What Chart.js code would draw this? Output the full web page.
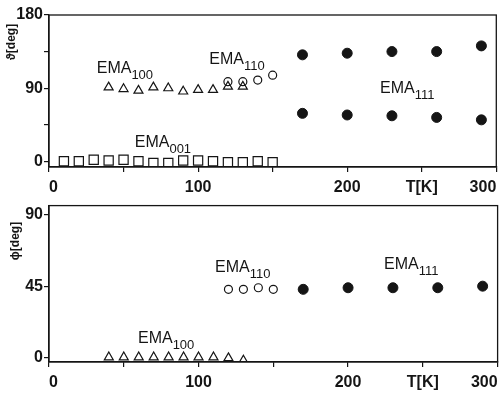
<!DOCTYPE html>
<html>
<head>
<meta charset="utf-8">
<script src="https://cdn.jsdelivr.net/npm/chart.js@4.4.0/dist/chart.umd.min.js"></script>
<style>
  html, body { margin: 0; padding: 0; background: #fff; }
  #top { position: absolute; left: 0; top: 0; }
  #bottom { position: absolute; left: 0; top: 195px; }
</style>
</head>
<body>
<canvas id="top" width="504" height="195"></canvas>
<canvas id="bottom" width="504" height="200"></canvas>
<script>
// tick values / labels
const xTicks = [0, 50, 100, 150, 200, 250, 300];
const xTickLabels = ['0', '', '100', '', '200', 'T[K]', '300'];
const thetaTicks = [0, 45, 90, 135, 180];
const thetaTickLabels = ['0', '', '90', '', '180'];
const phiTicks = [0, 45, 90];
const phiTickLabels = ['0', '45', '90'];

// temperatures [K]
const tEma001 = [10, 20, 30, 40, 50, 60, 70, 80, 90, 100, 110, 120, 130, 140, 150];
const tEma100 = [40, 50, 60, 70, 80, 90, 100, 110, 120, 130];
const tEma110 = [120, 130, 140, 150];
const tEma111 = [170, 200, 230, 260, 290];

// theta [deg]
const thetaEma001 = [0, 0, 2, 1, 2, 0, -2, -2, 1, 1, 0, -1, -1, 0, -1];
const thetaEma100 = [91, 89, 87, 91, 90, 86, 88, 88, 92, 92];
const thetaEma110 = [98, 98, 100, 106];
const thetaEma111Upper = [131, 133, 135, 135, 142];
const thetaEma111Lower = [59, 57, 56, 54, 51];

// phi [deg]
const phiEma100 = [0, 0, 0, 0, 0, 0, 0, 0, -0.5, -2];
const phiEma110 = [43, 43, 44, 43];
const phiEma111 = [43, 44, 44, 44, 45];

const INK = '#151515';
const FONT = '"Liberation Sans", Arial, sans-serif';

const pts = (xs, ys) => xs.map((x, i) => ({ x: x, y: ys[i] }));

const openSquare = { pointStyle: 'rect', pointRadius: 6.5, backgroundColor: 'transparent', borderColor: INK, borderWidth: 1.2 };
const openTriangle = { pointStyle: 'triangle', pointRadius: 5.2, backgroundColor: 'transparent', borderColor: INK, borderWidth: 1.2 };
const openCircle = { pointStyle: 'circle', pointRadius: 4, backgroundColor: 'transparent', borderColor: INK, borderWidth: 1.2 };
const fullCircle = { pointStyle: 'circle', pointRadius: 5, backgroundColor: INK, borderColor: INK, borderWidth: 1 };

function annotate(labels, title, titlePos) {
  return {
    id: 'annotate',
    afterDraw(chart) {
      const { ctx, chartArea: a, scales } = chart;
      ctx.save();
      ctx.strokeStyle = INK;
      ctx.lineWidth = 1.3;
      ctx.strokeRect(a.left, a.top, a.right - a.left, a.bottom - a.top);
      ctx.fillStyle = INK;
      ctx.textAlign = 'left';
      ctx.textBaseline = 'alphabetic';
      labels.forEach((l) => {
        const x = scales.x.getPixelForValue(l.t);
        const y = scales.y.getPixelForValue(l.v);
        ctx.font = '16px ' + FONT;
        ctx.fillText(l.text, x, y);
        const w = ctx.measureText(l.text).width;
        ctx.font = '13px ' + FONT;
        ctx.fillText(l.sub, x + w, y + 6);
      });
      ctx.translate(titlePos[0], titlePos[1]);
      ctx.rotate(-Math.PI / 2);
      ctx.textAlign = 'center';
      ctx.textBaseline = 'middle';
      ctx.font = 'bold 12px ' + FONT;
      ctx.fillText(title, 0, 0);
      ctx.restore();
    },
  };
}

function scalesFor(yMin, yMax, yTicks, yLabels, xHeight) {
  return {
    x: {
      type: 'linear',
      min: 0,
      max: 300,
      afterBuildTicks: (s) => { s.ticks = xTicks.map((v) => ({ value: v })); },
      afterFit: (s) => { s.height = xHeight; },
      ticks: {
        callback: (v, i) => xTickLabels[i],
        autoSkip: false,
        maxRotation: 0,
        align: 'inner',
        padding: 6,
        color: INK,
        font: { family: FONT, size: 16, weight: 'bold' },
      },
      grid: { drawOnChartArea: false, tickLength: 5, color: INK, lineWidth: 1.2 },
      border: { color: INK, width: 1.3 },
    },
    y: {
      type: 'linear',
      min: yMin,
      max: yMax,
      afterBuildTicks: (s) => { s.ticks = yTicks.map((v) => ({ value: v })); },
      afterFit: (s) => { s.width = 49; },
      ticks: {
        callback: (v, i) => yLabels[i],
        autoSkip: false,
        padding: 1,
        color: INK,
        font: { family: FONT, size: 16, weight: 'bold' },
      },
      grid: { drawOnChartArea: false, tickLength: 5, color: INK, lineWidth: 1.2 },
      border: { color: INK, width: 1.3 },
    },
  };
}

new Chart(document.getElementById('top'), {
  type: 'scatter',
  data: {
    datasets: [
      { label: 'EMA001', data: pts(tEma001, thetaEma001), ...openSquare },
      { label: 'EMA100', data: pts(tEma100, thetaEma100), ...openTriangle },
      { label: 'EMA110', data: pts(tEma110, thetaEma110), ...openCircle },
      { label: 'EMA111 upper', data: pts(tEma111, thetaEma111Upper), ...fullCircle },
      { label: 'EMA111 lower', data: pts(tEma111, thetaEma111Lower), ...fullCircle },
    ],
  },
  options: {
    responsive: false,
    animation: false,
    layout: { padding: { top: 15, right: 6, left: 0, bottom: 0 } },
    plugins: { legend: { display: false }, tooltip: { enabled: false } },
    scales: scalesFor(-7, 180, thetaTicks, thetaTickLabels, 28),
  },
  plugins: [annotate([
    { text: 'EMA', sub: '100', t: 32, v: 109 },
    { text: 'EMA', sub: '110', t: 107.5, v: 120 },
    { text: 'EMA', sub: '001', t: 57.5, v: 17 },
    { text: 'EMA', sub: '111', t: 222, v: 84 },
  ], '\u03D1[deg]', [12, 42])],
});

new Chart(document.getElementById('bottom'), {
  type: 'scatter',
  data: {
    datasets: [
      { label: 'EMA100', data: pts(tEma100, phiEma100), ...openTriangle },
      { label: 'EMA110', data: pts(tEma110, phiEma110), ...openCircle },
      { label: 'EMA111', data: pts(tEma111, phiEma111), ...fullCircle },
    ],
  },
  options: {
    responsive: false,
    animation: false,
    layout: { padding: { top: 8, right: 6, left: 0, bottom: 0 } },
    plugins: { legend: { display: false }, tooltip: { enabled: false } },
    scales: scalesFor(-3, 96, phiTicks, phiTickLabels, 33),
  },
  plugins: [annotate([
    { text: 'EMA', sub: '110', t: 111, v: 54 },
    { text: 'EMA', sub: '111', t: 224, v: 56 },
    { text: 'EMA', sub: '100', t: 59.5, v: 9.3 },
  ], '\u03D5[deg]', [16, 46])],
});
</script>
</body>
</html>
